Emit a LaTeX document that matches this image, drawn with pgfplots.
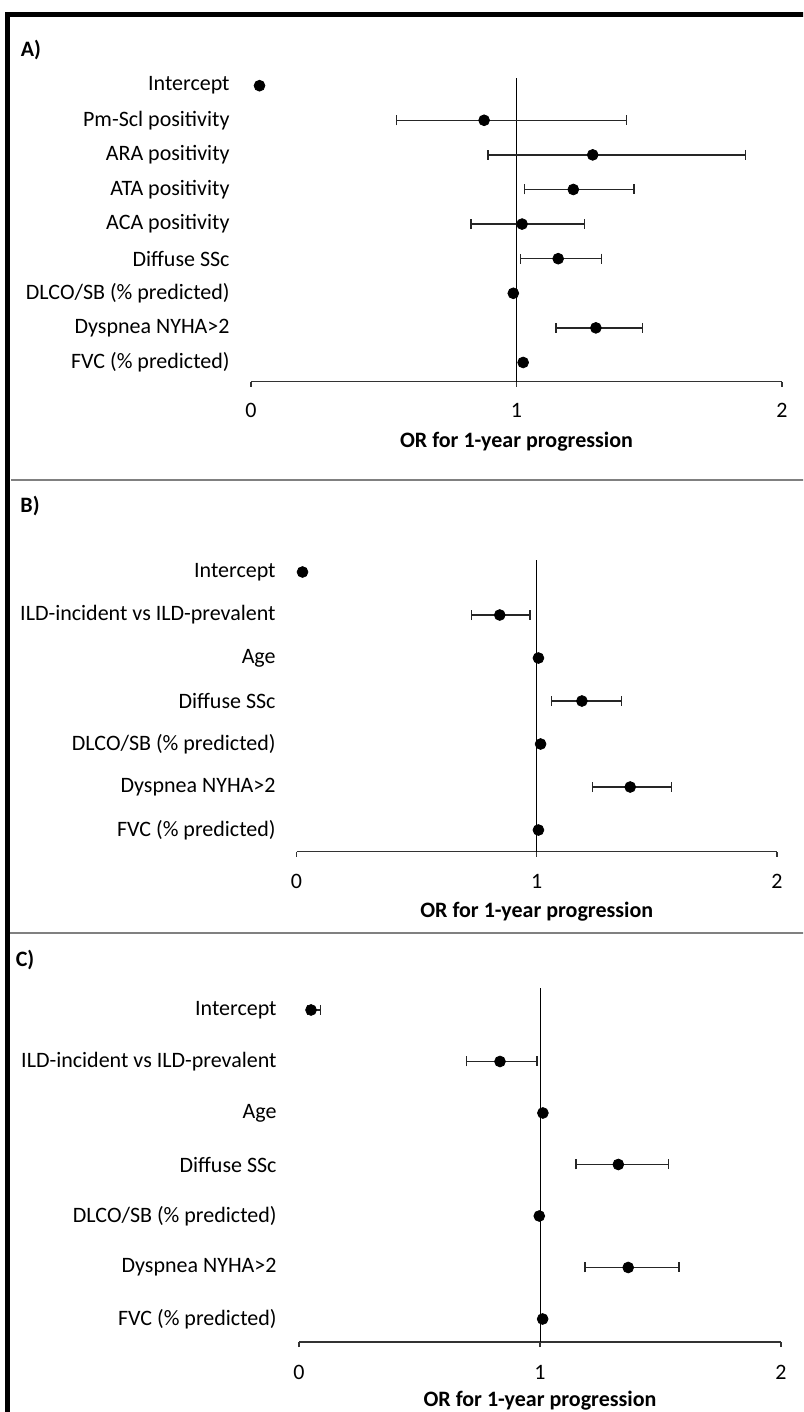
\documentclass[border=0pt]{standalone}
\usepackage{fontspec}
\setmainfont{Carlito}
\usepackage{pgfplots}
\pgfplotsset{compat=1.18}
\usepackage{pgfplotstable}

% Panel A
\pgfplotstableread{
pos or lo hi
8 0.878 0.549 1.415
7 1.287 0.893 1.862
6 1.214 1.029 1.443
5 1.021 0.828 1.257
4 1.157 1.015 1.321
2 1.299 1.148 1.475
}\Aci
\pgfplotstableread{
pos or
9 0.032
3 0.988
1 1.025
}\Apt
% Panel B
\pgfplotstableread{
pos or lo hi
6 0.846 0.729 0.972
4 1.188 1.062 1.352
2 1.389 1.233 1.561
}\Bci
\pgfplotstableread{
pos or
7 0.025
5 1.007
3 1.016
1 1.007
}\Bpt
% Panel C
\pgfplotstableread{
pos or lo hi
7 0.050 0.035 0.089
6 0.834 0.695 0.987
4 1.325 1.150 1.532
2 1.366 1.187 1.576
}\Cci
\pgfplotstableread{
pos or
5 1.012
3 0.997
1 1.011
}\Cpt

\newcommand{\lblfont}{\fontsize{11}{13}\selectfont}

\pgfplotsset{
  forest/.style={
    scale only axis, xmin=0, xmax=2,
    axis x line*=bottom, axis y line*=left,
    y axis line style={draw=none},
    x axis line style={black!80, line width=0.6pt, -},
    xtick={0,1,2}, xtick align=outside, major tick length=2.5pt,
    xtick style={black!80, line width=0.6pt},
    ytick style={draw=none},
    ticklabel style={font=\lblfont},
    /pgf/number format/assume math mode=true,
    xlabel={OR for 1-year progression},
    yticklabel style={anchor=east, inner sep=0pt},
    clip=false,
  },
  ci/.style={only marks, mark=*, mark size=2.7pt, black,
    error bars/.cd, x dir=both, x explicit,
    error bar style={black!85, line width=0.7pt},
    error mark options={black!85, line width=0.7pt, mark size=2.5pt, rotate=90}},
  pt/.style={only marks, mark=*, mark size=2.7pt, black},
}

\begin{document}
\begin{tikzpicture}
\useasboundingbox (0,0) rectangle (401.5pt,-706pt);
\begin{scope}
\clip (0,0) rectangle (401.5pt,-706pt);
\draw[line width=2.3pt] (3.75pt,-800pt) -- (3.75pt,-7.15pt) -- (500pt,-7.15pt);
\draw[black!50, line width=0.75pt] (5.5pt,-240pt) -- (420pt,-240pt);
\draw[black!50, line width=0.75pt] (5pt,-466.5pt) -- (420pt,-466.5pt);
\end{scope}
\node[font=\lblfont\bfseries] at (15.5pt,-25pt) {A)};
\node[font=\lblfont\bfseries] at (15pt,-253pt) {B)};
\node[font=\lblfont\bfseries] at (12.5pt,-480pt) {C)};

% ---------- Panel A ----------
\begin{axis}[forest,
  at={(125.5pt,-190.75pt)}, anchor=south west,
  width=265.5pt, height=153.1pt, ymin=0.45, ymax=9.3,
  ytick={1,...,9},
  yticklabels={FVC (\% predicted), Dyspnea NYHA>2, DLCO/SB (\% predicted), Diffuse SSc, ACA positivity, ATA positivity, ARA positivity, Pm-Scl positivity, Intercept},
  yticklabel style={xshift=-10.5pt},
  xticklabel style={anchor=center, yshift=-12pt},
  xlabel style={font=\lblfont\bfseries, at={(axis description cs:0.5,0)}, anchor=center, yshift=-30.25pt},
]
\addplot[black, line width=0.5pt] coordinates {(1,0.45) (1,9.23)};
\addplot[ci] table[x=or, y=pos, x error minus expr=\thisrow{or}-\thisrow{lo}, x error plus expr=\thisrow{hi}-\thisrow{or}] {\Aci};
\addplot[pt] table[x=or, y=pos] {\Apt};
\end{axis}

% ---------- Panel B ----------
\begin{axis}[forest,
  at={(148.25pt,-425.75pt)}, anchor=south west,
  width=240.25pt, height=146.2pt, ymin=0.5, ymax=7.3,
  ytick={1,...,7},
  yticklabels={FVC (\% predicted), Dyspnea NYHA>2, DLCO/SB (\% predicted), Diffuse SSc, Age, ILD-incident vs ILD-prevalent, Intercept},
  yticklabel style={xshift=-10.25pt},
  xticklabel style={anchor=center, yshift=-12.25pt},
  xlabel style={font=\lblfont\bfseries, at={(axis description cs:0.5,0)}, anchor=center, yshift=-30.25pt},
]
\addplot[black, line width=0.5pt] coordinates {(1,0.5) (1,7.28)};
\addplot[ci] table[x=or, y=pos, x error minus expr=\thisrow{or}-\thisrow{lo}, x error plus expr=\thisrow{hi}-\thisrow{or}] {\Bci};
\addplot[pt] table[x=or, y=pos] {\Bpt};
\end{axis}

% ---------- Panel C ----------
\begin{axis}[forest,
  at={(149.5pt,-671pt)}, anchor=south west,
  width=241pt, height=177.6pt, ymin=0.553, ymax=7.45,
  ytick={1,...,7},
  yticklabels={FVC (\% predicted), Dyspnea NYHA>2, DLCO/SB (\% predicted), Diffuse SSc, Age, ILD-incident vs ILD-prevalent, Intercept},
  yticklabel style={xshift=-11pt},
  xticklabel style={anchor=center, yshift=-12.5pt},
  xlabel style={font=\lblfont\bfseries, at={(axis description cs:0.5,0)}, anchor=center, yshift=-29.5pt},
]
\addplot[black, line width=0.5pt] coordinates {(1,0.553) (1,7.43)};
\addplot[ci] table[x=or, y=pos, x error minus expr=\thisrow{or}-\thisrow{lo}, x error plus expr=\thisrow{hi}-\thisrow{or}] {\Cci};
\addplot[pt] table[x=or, y=pos] {\Cpt};
\end{axis}
\end{tikzpicture}
\end{document}
